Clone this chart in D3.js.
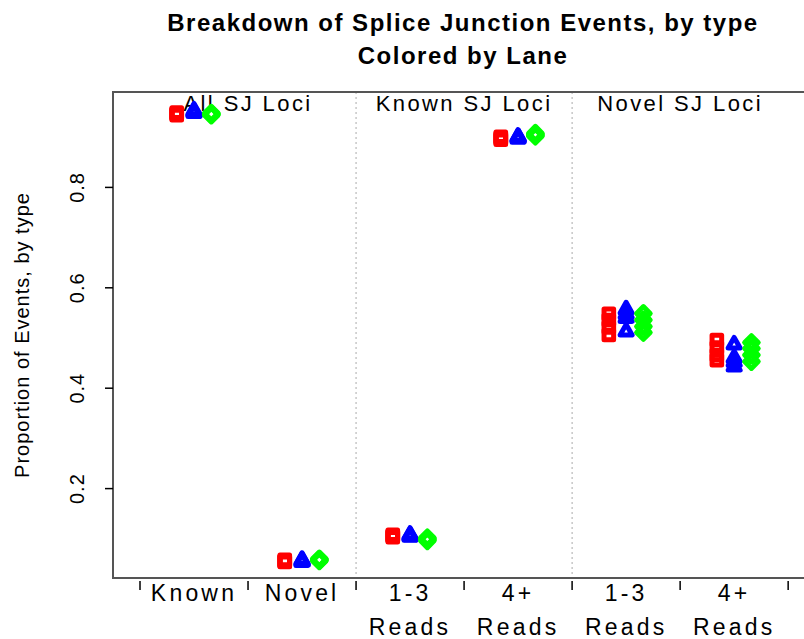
<!DOCTYPE html>
<html>
<head>
<meta charset="utf-8">
<script src="https://cdn.jsdelivr.net/npm/d3@7"></script>
<style>
  body { margin: 0; background: #fff; }
  text { font-family: "Liberation Sans", Arial, sans-serif; fill: #000; }
</style>
</head>
<body>
<svg id="chart" width="804" height="639"></svg>
<script>
// Categories along the x axis (two-line labels)
var categories = [
	["Known"], ["Novel"], ["1-3", "Reads"], ["4+", "Reads"], ["1-3", "Reads"], ["4+", "Reads"]
];
var panels = ["All SJ Loci", "Known SJ Loci", "Novel SJ Loci"];
var lanes = ["Lane 1", "Lane 2", "Lane 3"];
var yTicks = [0.2, 0.4, 0.6, 0.8];

// Proportion per sample, one array per lane, one inner list per category
var lane1 = [
	[0.943, 0.945, 0.946, 0.948],
	[0.053, 0.054, 0.055, 0.057],
	[0.102, 0.104, 0.105, 0.107],
	[0.894, 0.896, 0.898, 0.900],
	[0.547, 0.535, 0.520, 0.505],
	[0.495, 0.480, 0.465, 0.455]
];
var lane2 = [
	[0.948, 0.950, 0.951, 0.953],
	[0.054, 0.055, 0.057, 0.058],
	[0.104, 0.105, 0.107, 0.108],
	[0.897, 0.899, 0.900, 0.901],
	[0.557, 0.548, 0.540, 0.513],
	[0.487, 0.460, 0.452, 0.443]
];
var lane3 = [
	[0.943, 0.944, 0.946, 0.947],
	[0.055, 0.056, 0.058, 0.059],
	[0.095, 0.097, 0.099, 0.101],
	[0.901, 0.903, 0.905, 0.907],
	[0.548, 0.535, 0.522, 0.510],
	[0.452, 0.465, 0.478, 0.490]
];
var laneValues = [lane1, lane2, lane3];
var laneColors = ["#ff0000", "#0000ff", "#00ff00"];

var svg = d3.select("#chart");
var box = {left: 113, right: 813, top: 92, bottom: 578};

var x = d3.scaleLinear().domain([0.25, 6.73]).range([box.left, box.right]);
var y = d3.scaleLinear().domain([0, 1]).range([588.5, 86.5]);
var laneOffset = [-0.16, 0, 0.16];

// Marker shapes (R pch 0, 2, 5)
function markerPath(k) {
	if (k == 0) return "M-4.8,-4.8H4.8V4.8H-4.8Z";
	if (k == 1) return "M0,-6.6L6,4H-6Z";
	return "M0,-6.8L6.8,0L0,6.8L-6.8,0Z";
}

// Titles
svg.append("text").attr("x", 463).attr("y", 31)
	.attr("text-anchor", "middle").style("font-weight", "bold")
	.style("font-size", "24px").style("letter-spacing", "1.5px")
	.text("Breakdown of Splice Junction Events, by type");
svg.append("text").attr("x", 463).attr("y", 64)
	.attr("text-anchor", "middle").style("font-weight", "bold")
	.style("font-size", "24px").style("letter-spacing", "1.5px")
	.text("Colored by Lane");

// Panel separators
[2.5, 4.5].forEach((b) => {
	svg.append("line")
		.attr("x1", x(b)).attr("x2", x(b))
		.attr("y1", box.top).attr("y2", box.bottom)
		.attr("stroke", "#aaa").attr("stroke-width", 1)
		.attr("stroke-dasharray", "2,3");
});

// Panel labels
panels.forEach((p, i) => {
	svg.append("text").attr("x", x(1.5 + 2 * i)).attr("y", 111)
		.attr("text-anchor", "middle")
		.style("font-size", "22px").style("letter-spacing", "2.4px")
		.text(p);
});

// Points
laneValues.forEach((lane, k) => {
	lane.forEach((vals, c) => {
		svg.selectAll(null)
			.data(vals)
			.enter()
			.append("path")
			.attr("d", markerPath(k))
			.attr("transform", (v) => "translate(" + x(c + 1 + laneOffset[k]) + "," + y(v) + ")")
			.attr("fill", "none")
			.attr("stroke", laneColors[k])
			.attr("stroke-width", 5)
			.attr("stroke-linejoin", "round");
	});
});

// Box
svg.append("path")
	.attr("d", "M" + box.right + "," + box.top + "H" + box.left + "V" + box.bottom + "H" + box.right)
	.attr("fill", "none").attr("stroke", "#555").attr("stroke-width", 2);

// Y axis
var yAxis = d3.axisLeft(y).tickValues(yTicks).tickSize(8).tickFormat(d3.format(".1f"));
var gy = svg.append("g").attr("transform", "translate(" + box.left + ",0)").call(yAxis);
gy.select(".domain").remove();
gy.selectAll(".tick line").attr("stroke", "#000").attr("stroke-width", 1.5);
gy.selectAll(".tick text")
	.attr("x", null).attr("dy", null)
	.attr("transform", "translate(-29,0) rotate(-90)")
	.attr("text-anchor", "middle")
	.style("font-size", "20px").style("letter-spacing", "1px")
	.style("font-family", "'Liberation Sans', Arial, sans-serif");

// X axis ticks at category boundaries
var xBounds = d3.range(0.5, 7, 1);
var gx = svg.append("g").attr("transform", "translate(0," + box.bottom + ")");
gx.selectAll("line").data(xBounds).enter().append("line")
	.attr("x1", (d) => x(d)).attr("x2", (d) => x(d))
	.attr("y1", 3).attr("y2", 12)
	.attr("stroke", "#000").attr("stroke-width", 1.5);

categories.forEach((lbl, i) => {
	lbl.forEach((line, j) => {
		gx.append("text").attr("x", x(i + 1)).attr("y", 23 + j * 34)
			.attr("text-anchor", "middle")
			.style("font-size", "23px").style("letter-spacing", "3.2px")
			.text(line);
	});
});

// Y axis title
svg.append("text")
	.attr("transform", "translate(29," + ((box.top + box.bottom) / 2) + ") rotate(-90)")
	.attr("text-anchor", "middle")
	.style("font-size", "20px").style("letter-spacing", "1px")
	.text("Proportion of Events, by type");
</script>
</body>
</html>
